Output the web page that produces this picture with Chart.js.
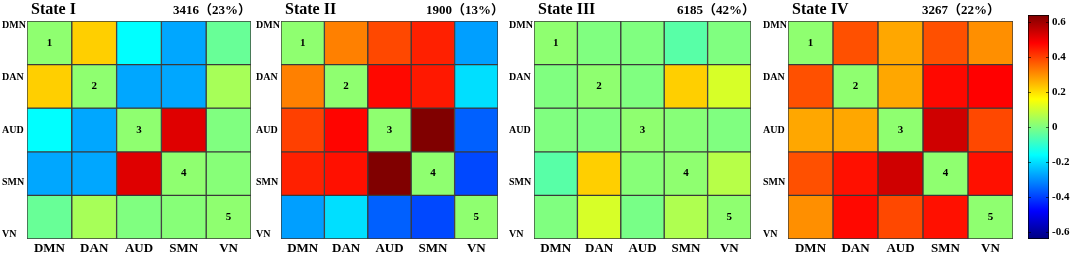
<!DOCTYPE html>
<html>
<head>
<meta charset="utf-8">
<script src="https://cdn.jsdelivr.net/npm/chart.js@4"></script>
<style>
  body { margin: 0; background: #fff; width: 1074px; height: 259px; position: relative; overflow: hidden; }
  canvas { position: absolute; top: 0; }
</style>
</head>
<body>
<canvas id="state1" width="251" height="259" style="left:2px"></canvas>
<canvas id="state2" width="244" height="259" style="left:256px"></canvas>
<canvas id="state3" width="244" height="259" style="left:509px"></canvas>
<canvas id="state4" width="252" height="259" style="left:763px"></canvas>
<canvas id="colorbar" width="74" height="259" style="left:1000px"></canvas>
<script>
// networks (rows top to bottom, columns left to right)
const networks = ['DMN', 'DAN', 'AUD', 'SMN', 'VN'];
const rowTickPos = [0.1, 1.3, 2.5, 3.7, 4.9];

const titles = ['State I', 'State II', 'State III', 'State IV'];
const counts = ['3416（23%）', '1900（13%）', '6185（42%）', '3267（22%）'];
const countOffset = [146, 145, 143, 134];

// correlation matrices
const state1 = [
  [0.02, 0.22, -0.16, -0.27, -0.03],
  [0.22, 0.02, -0.27, -0.27, 0.05],
  [-0.16, -0.27, 0.02, 0.52, 0.0],
  [-0.27, -0.27, 0.52, 0.02, 0.01],
  [-0.03, 0.05, 0.0, 0.01, 0.02]
];
const state2 = [
  [0.02, 0.32, 0.39, 0.44, -0.28],
  [0.32, 0.02, 0.47, 0.45, -0.2],
  [0.40, 0.475, 0.02, 0.64, -0.36],
  [0.44, 0.46, 0.64, 0.02, -0.39],
  [-0.28, -0.2, -0.36, -0.39, 0.02]
];
const state3 = [
  [0.02, 0, 0, -0.05, 0],
  [0, 0.02, 0, 0.22, 0.11],
  [0, 0, 0.02, 0.01, 0],
  [-0.05, 0.22, 0.01, 0.02, 0.07],
  [0, 0.11, -0.01, 0.06, 0.02]
];
const state4 = [
  [0.02, 0.38, 0.27, 0.38, 0.30],
  [0.38, 0.02, 0.27, 0.47, 0.48],
  [0.27, 0.27, 0.02, 0.54, 0.39],
  [0.38, 0.46, 0.54, 0.02, 0.46],
  [0.30, 0.47, 0.39, 0.46, 0.02]
];
const states = [state1, state2, state3, state4];

const cbMin = -0.64, cbMax = 0.64;
const cbTicks = [-0.6, -0.4, -0.2, 0, 0.2, 0.4, 0.6];

const serif = '"Liberation Serif", "Times New Roman", serif';
const serifCjk = '"Liberation Serif", "Noto Sans CJK SC", serif';

// matlab style jet colormap
function jet(v) {
  let t = (v - cbMin) / (cbMax - cbMin);
  t = Math.min(1, Math.max(0, t));
  const c = x => Math.round(255 * Math.min(1, Math.max(0, x)));
  const r = c(1.5 - Math.abs(4 * t - 3));
  const g = c(1.5 - Math.abs(4 * t - 2));
  const b = c(1.5 - Math.abs(4 * t - 1));
  return `rgb(${r},${g},${b})`;
}

// titles, counts and diagonal numbers
const panelText = {
  id: 'panelText',
  afterDraw(chart, args, opts) {
    const { ctx, chartArea, scales } = chart;
    ctx.save();
    ctx.fillStyle = '#000';
    ctx.textAlign = 'left';
    ctx.textBaseline = 'alphabetic';
    ctx.font = 'bold 16px ' + serif;
    ctx.fillText(opts.title, chartArea.left + 4, 14);
    ctx.font = 'bold 13px ' + serifCjk;
    ctx.fillText(opts.count, chartArea.left + opts.offset, 14);
    ctx.font = 'bold 11px ' + serif;
    ctx.textAlign = 'center';
    ctx.textBaseline = 'middle';
    networks.forEach((n, i) => {
      ctx.fillText(String(i + 1), scales.x.getPixelForValue(i), scales.y.getPixelForValue(i + 0.5));
    });
    ctx.restore();
  }
};

function buildState(id, k) {
  const matrix = states[k];
  return new Chart(document.getElementById(id), {
    type: 'bar',
    data: {
      labels: networks,
      datasets: networks.map((row, r) => ({
        label: row,
        data: networks.map(() => 1),
        backgroundColor: matrix[r].map(jet),
        borderColor: '#3a3a3a',
        borderWidth: 1,
        borderSkipped: false,
        barPercentage: 1,
        categoryPercentage: 1
      }))
    },
    options: {
      responsive: false,
      animation: false,
      layout: { padding: { top: 21, right: 2, left: 0, bottom: 0 } },
      plugins: {
        legend: { display: false },
        tooltip: { enabled: false },
        panelText: { title: titles[k], count: counts[k], offset: countOffset[k] }
      },
      scales: {
        x: {
          stacked: true,
          grid: { display: false, drawTicks: false },
          border: { display: false },
          ticks: { color: '#000', padding: 2, maxRotation: 0, autoSkip: false,
                   font: { family: serif, size: 13, weight: 'bold' } },
          afterFit: s => { s.height = 20; }
        },
        y: {
          stacked: true,
          reverse: true,
          min: 0,
          max: 5,
          grid: { display: false, drawTicks: false },
          border: { display: false },
          afterBuildTicks: s => { s.ticks = rowTickPos.map(v => ({ value: v })); },
          ticks: { color: '#000', crossAlign: 'far', autoSkip: false,
                   callback: (v, i) => networks[i],
                   font: { family: serif, size: 10, weight: 'bold' } },
          afterFit: s => { s.width = 25; }
        }
      }
    },
    plugins: [panelText]
  });
}

buildState('state1', 0);
buildState('state2', 1);
buildState('state3', 2);
buildState('state4', 3);

// small tick marks inside the colorbar
const cbTickMarks = {
  id: 'cbTickMarks',
  afterDatasetsDraw(chart) {
    const { ctx, chartArea, scales } = chart;
    ctx.save();
    ctx.strokeStyle = 'rgba(0,0,0,0.6)';
    ctx.lineWidth = 1;
    cbTicks.forEach(v => {
      const y = Math.round(scales.y.getPixelForValue(v)) + 0.5;
      ctx.beginPath();
      ctx.moveTo(chartArea.left, y); ctx.lineTo(chartArea.left + 3, y);
      ctx.moveTo(chartArea.right - 3, y); ctx.lineTo(chartArea.right, y);
      ctx.stroke();
    });
    ctx.restore();
  }
};

new Chart(document.getElementById('colorbar'), {
  type: 'bar',
  data: {
    labels: [''],
    datasets: [{
      data: [[cbMin, cbMax]],
      backgroundColor: c => {
        const ca = c.chart.chartArea;
        if (!ca) return null;
        const g = c.chart.ctx.createLinearGradient(0, ca.bottom, 0, ca.top);
        for (let i = 0; i <= 32; i++) g.addColorStop(i / 32, jet(cbMin + (i / 32) * (cbMax - cbMin)));
        return g;
      },
      borderColor: '#000',
      borderWidth: 1,
      borderSkipped: false,
      barPercentage: 1,
      categoryPercentage: 1
    }]
  },
  options: {
    responsive: false,
    animation: false,
    layout: { padding: { top: 15, left: 28, bottom: 20, right: 0 } },
    plugins: { legend: { display: false }, tooltip: { enabled: false } },
    scales: {
      x: { display: false },
      y: {
        position: 'right',
        min: cbMin,
        max: cbMax,
        grid: { display: false, drawTicks: false },
        border: { display: false },
        afterBuildTicks: s => { s.ticks = cbTicks.map(v => ({ value: v })); },
        ticks: { color: '#000', padding: 3,
                 callback: v => (v === 0 ? '0' : v.toFixed(1)),
                 font: { family: serif, size: 11, weight: 'bold' } },
        afterFit: s => { s.width = 25; }
      }
    }
  },
  plugins: [cbTickMarks]
});
</script>
</body>
</html>
